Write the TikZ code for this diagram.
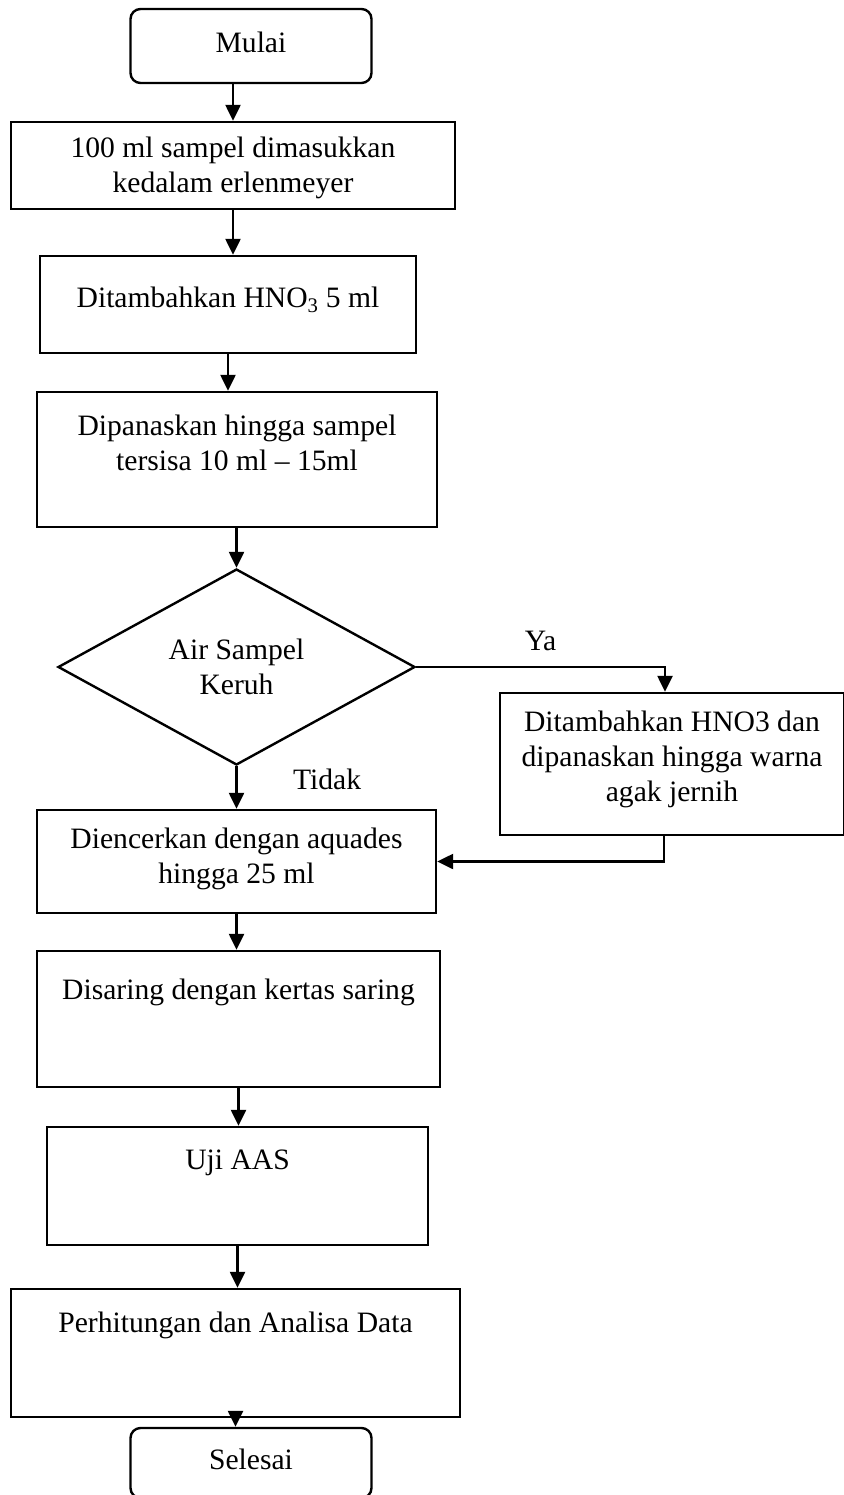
\documentclass[tikz,border=0pt]{standalone}
\usepackage{fontspec}
\setmainfont{Liberation Serif}
\usetikzlibrary{shapes.geometric,arrows.meta}

\begin{document}
\begin{tikzpicture}[x=1pt,y=-1pt,
    every node/.style={font=\fontsize{29.6}{35}\selectfont},
    proses/.style={draw, line width=2.4pt, align=center, inner sep=0pt},
    terminal/.style={proses, rounded corners=10pt},
    keputusan/.style={diamond, draw, line width=2.4pt, align=center, inner sep=0pt},
    panah/.style={line width=2.4pt, -{Triangle[length=16pt,width=15pt]}}]

    \useasboundingbox (0,0) rectangle (843,1495);

    \node[terminal, minimum width=241, minimum height=74, text depth=7.4pt] (mulai) at (251,46) {Mulai};
    \node[proses, minimum width=444, minimum height=87, text depth=1.4pt] (sampel) at (233,165.5) {100 ml sampel dimasukkan\\kedalam erlenmeyer};
    \node[proses, minimum width=376, minimum height=97, text depth=15.4pt] (hno) at (228,304.5) {Ditambahkan HNO\textsubscript{3} 5 ml};
    \node[proses, minimum width=400, minimum height=135, text depth=33.4pt] (panas) at (237,459.5) {Dipanaskan hingga sampel\\tersisa 10 ml -- 15ml};
    \node[keputusan, minimum width=357, minimum height=196] (keruh) at (236.5,667) {Air Sampel\\Keruh};
    \node[proses, minimum width=344, minimum height=142, text depth=15.4pt] (jernih) at (672,764) {Ditambahkan HNO3 dan\\dipanaskan hingga warna\\agak jernih};
    \node[proses, minimum width=399, minimum height=103, text depth=11.4pt] (encer) at (236.5,861.5) {Diencerkan dengan aquades\\hingga 25 ml};
    \node[proses, minimum width=403, minimum height=136, text depth=59.4pt] (saring) at (238.5,1019) {Disaring dengan kertas saring};
    \node[proses, minimum width=381, minimum height=118, text depth=53.4pt] (aas) at (237.5,1186) {Uji AAS};
    \node[proses, minimum width=449, minimum height=128, text depth=61.4pt] (hitung) at (235.5,1353) {Perhitungan dan Analisa Data};
    \node[terminal, minimum width=241, minimum height=70, text depth=7.4pt] (selesai) at (251,1463) {Selesai};

    \draw[panah] (mulai.south -| sampel.north) -- (sampel.north);
    \draw[panah] (sampel.south) -- (sampel.south |- hno.north);
    \draw[panah] (hno.south) -- (hno.south |- panas.north);
    \draw[panah] (panas.south -| keruh.north) -- (keruh.north);

    % percabangan
    \draw[panah] (keruh.east) -| node[pos=0.25, above=12pt] (ya) {Ya} ([xshift=-7]jernih.north);
    \draw[panah] (keruh.south) -- node[pos=0.3, right=52pt] (tidak) {Tidak} (encer.north);
    \draw[panah] ([xshift=-8]jernih.south) |- (encer.east);

    \draw[panah] (encer.south) -- (encer.south |- saring.north);
    \draw[panah] (saring.south) -- (saring.south |- aas.north);
    \draw[panah] (aas.south) -- (aas.south |- hitung.north);
    \draw[panah] (hitung.south) -- (hitung.south |- selesai.north);

\end{tikzpicture}
\end{document}
